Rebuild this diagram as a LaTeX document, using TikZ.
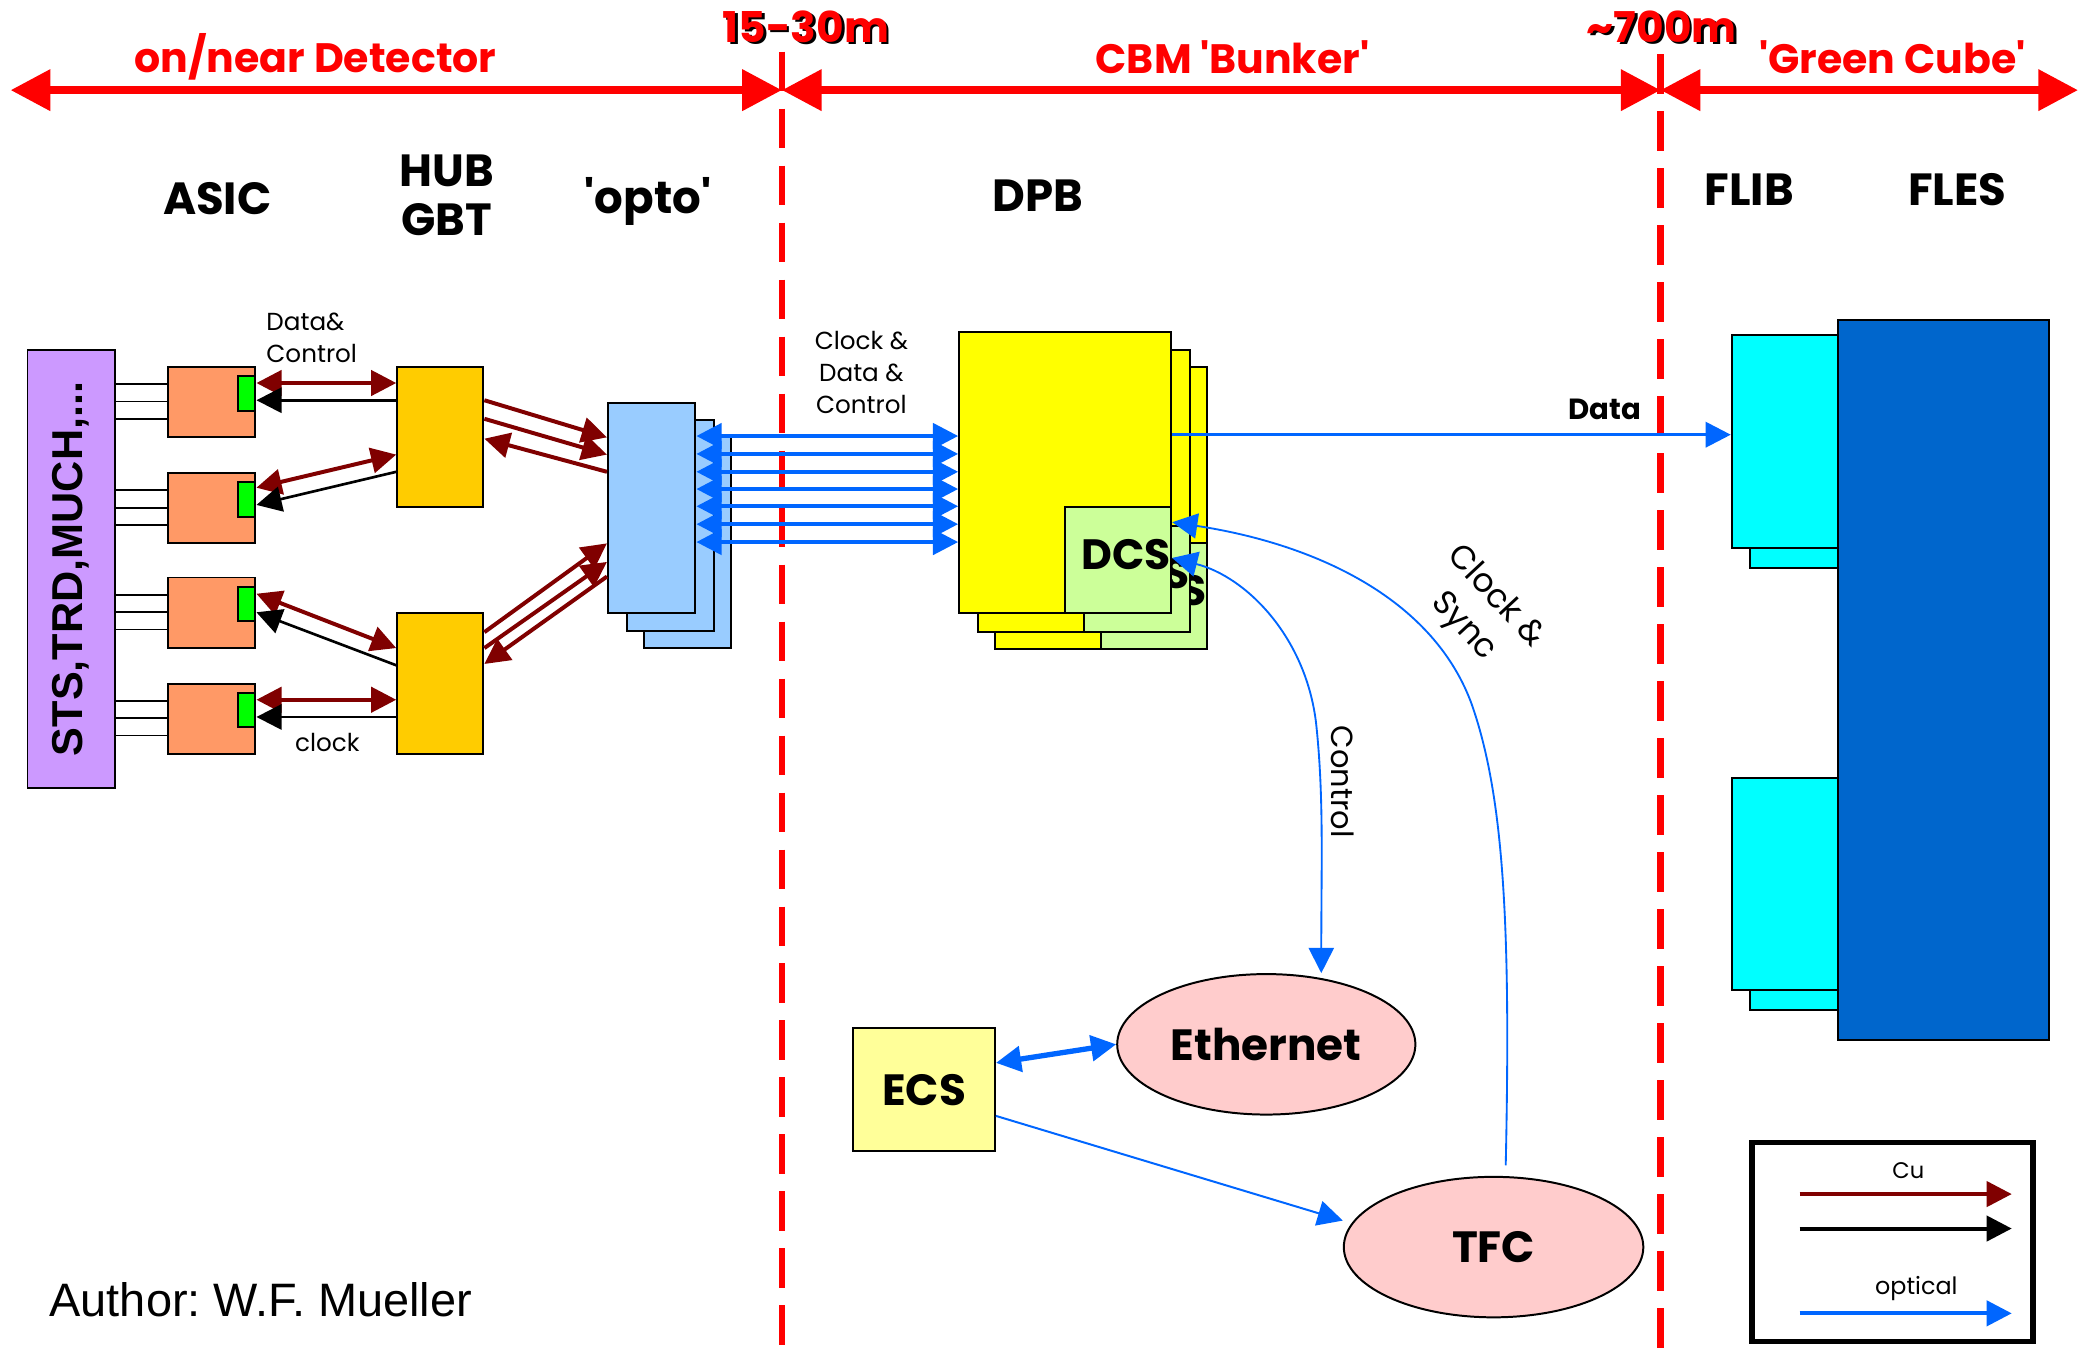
\documentclass[tikz,border=0pt]{standalone}
\usepackage{fontspec}
\setmainfont{Poppins}
\newfontfamily\arialfont{Liberation Sans}
\usetikzlibrary{arrows.meta,shapes.geometric}
\definecolor{dred}{HTML}{800000}
\definecolor{oblue}{HTML}{0066FF}
\definecolor{asicc}{HTML}{FF9966}
\definecolor{hubc}{HTML}{FFCC00}
\definecolor{optoc}{HTML}{99CCFF}
\definecolor{dpbc}{HTML}{FFFF00}
\definecolor{dcsc}{HTML}{CCFF99}
\definecolor{flibc}{HTML}{00FFFF}
\definecolor{flesc}{HTML}{0066CC}
\definecolor{ellc}{HTML}{FFCCCC}
\definecolor{ecsc}{HTML}{FFFF99}
\definecolor{purc}{HTML}{CC99FF}
\definecolor{grnc}{HTML}{00FF00}
\tikzset{
  tipS/.tip={Triangle[length=9.5pt,width=9.5pt]},
  tipB/.tip={Triangle[length=15pt,width=15pt]},
}
\frenchspacing
\begin{document}
\begin{tikzpicture}[x=0.5pt,y=-0.5pt,
  box/.style={draw=black,line width=0.75pt,inner sep=0pt,anchor=north west},
  hdr/.style={font=\bfseries\fontsize{17}{18.5}\selectfont,align=center},
  redlbl/.style={text=red,font=\bfseries\fontsize{15.5}{17}\selectfont},
  distlbl/.style={font=\bfseries\fontsize{16}{18}\selectfont},
  smalllbl/.style={font=\fontsize{9.3}{12}\selectfont,align=center},
  bigtxt/.style={font=\bfseries\fontsize{16.5}{18}\selectfont},
  dcstxt/.style={font=\bfseries\fontsize{16}{18}\selectfont},
  topbar/.style={draw=red,line width=3pt,arrows={tipB-tipB}},
  vdash/.style={draw=red,line width=2.5pt,dash pattern=on 15pt off 6.5pt},
  cu/.style={draw=dred,line width=1.5pt},
  blk/.style={draw=black,line width=1pt},
  opt/.style={draw=oblue,line width=1.5pt},
  thinopt/.style={draw=oblue,line width=0.7pt},
  wire/.style={draw=black,line width=0.7pt},
]
\path[fill=white] (0,0) rectangle (1568,1025);
\useasboundingbox (0,0) rectangle (1568,1025);

% ---------- vertical dashed separators ----------
\coordinate (d1t) at (590,39);
\coordinate (d1b) at (590,1025);
\coordinate (d2t) at (1253,41);
\coordinate (d2b) at (1253,1025);
\draw[vdash] (d1t) -- (d1b);
\draw[vdash] (d2t) -- (d2b);

% ---------- top bar ----------
\coordinate (bL) at (8,68);
\coordinate (b1) at (590,68);
\coordinate (b2) at (1253,68);
\coordinate (bR) at (1568,68);
\draw[topbar] (bL) -- (b1);
\draw[topbar] (b1) -- (b2);
\draw[topbar] (b2) -- (bR);

\node[redlbl] (lDet) at (238,43) {on/near Detector};
\node[distlbl,text=black] (l15s) at (610,22) {15-30m};
\node[distlbl,text=red] (l15) at (608,20) {15-30m};
\node[redlbl] (lBunk) at (930,43) {CBM \textquotesingle Bunker\textquotesingle};
\node[distlbl,text=black] (l700s) at (1256,22) {\textasciitilde 700m};
\node[distlbl,text=red] (l700) at (1254,20) {\textasciitilde 700m};
\node[redlbl] (lGreen) at (1428,43) {\textquotesingle Green Cube\textquotesingle};

% ---------- column headers ----------
\node[hdr] (hASIC) at (164,150) {ASIC};
\node[hdr] (hHUB) at (337,147) {HUB\\GBT};
\node[hdr] (hOpto) at (489,152) {\textquotesingle opto\textquotesingle};
\node[hdr] (hDPB) at (783,148) {DPB};
\node[hdr] (hFLIB) at (1320,143) {FLIB};
\node[hdr] (hFLES) at (1477,143) {FLES};

% ---------- detector box ----------
\node[box,fill=purc,minimum width=33pt,minimum height=165.5pt] (pur) at (20,263) {};
\node[rotate=90,font=\arialfont\bfseries\fontsize{16.3}{18}\selectfont] (purtxt) at (pur.center) {STS,TRD,MUCH,...};

% ---------- ASICs ----------
\foreach \i/\y in {1/276,2/356,3/435,4/515}{
  \node[box,fill=asicc,minimum width=33pt,minimum height=26.5pt] (asic\i) at (126,\y) {};
  \node[box,fill=grnc,minimum width=6.5pt,minimum height=13pt] (g\i) at (179,\y+7) {};
  \foreach \d in {14,27,40}{
    \draw[wire] (pur.east |- 0,\y+\d) -- (asic\i.west |- 0,\y+\d);
  }
}

% ---------- HUBs ----------
\node[box,fill=hubc,minimum width=32.5pt,minimum height=53pt] (hub1) at (299,276) {};
\node[box,fill=hubc,minimum width=32.5pt,minimum height=53pt] (hub2) at (299,462) {};

% ---------- opto ----------
\node[box,fill=optoc,minimum width=33pt,minimum height=79.5pt] (opto3) at (485,329) {};
\node[box,fill=optoc,minimum width=33pt,minimum height=79.5pt] (opto2) at (472,316) {};
\node[box,fill=optoc,minimum width=33pt,minimum height=79.5pt] (opto1) at (458,303) {};

% ---------- DPB stack ----------
\node[box,fill=dpbc,minimum width=80pt,minimum height=106.5pt] (dpb3) at (750,276) {};
\node[box,anchor=south east,fill=dcsc,minimum width=40pt,minimum height=40pt] (dcs3) at (dpb3.south east) {};
\node[dcstxt] (dcs3t) at ([xshift=3pt,yshift=2pt]dcs3.center) {DCS};
\node[box,fill=dpbc,minimum width=80pt,minimum height=106.5pt] (dpb2) at (737,263) {};
\node[box,anchor=south east,fill=dcsc,minimum width=40pt,minimum height=40pt] (dcs2) at (dpb2.south east) {};
\node[dcstxt] (dcs2t) at ([xshift=3pt,yshift=2pt]dcs2.center) {DCS};
\node[box,fill=dpbc,minimum width=80pt,minimum height=106pt] (dpb1) at (723,250) {};
\node[box,anchor=south east,fill=dcsc,minimum width=40pt,minimum height=40pt] (dcs1) at (dpb1.south east) {};
\node[dcstxt] (dcs1t) at ([xshift=3pt,yshift=2pt]dcs1.center) {DCS};

% ---------- FLIB / FLES ----------
\node[box,fill=flibc,minimum width=40pt,minimum height=80.5pt] (flib1b) at (1320,267) {};
\node[box,fill=flibc,minimum width=40pt,minimum height=80.5pt] (flib1) at (1306,252) {};
\node[box,fill=flibc,minimum width=40pt,minimum height=80pt] (flib2b) at (1320,601) {};
\node[box,fill=flibc,minimum width=40pt,minimum height=80pt] (flib2) at (1306,586) {};
\node[box,fill=flesc,minimum width=79.5pt,minimum height=271.5pt] (fles) at (1386,241) {};

% ---------- ECS / Ethernet / TFC ----------
\node[box,fill=ecsc,minimum width=53.5pt,minimum height=46.5pt,bigtxt] (ecs) at (643,775) {ECS};
\node[ellipse,draw=black,line width=0.75pt,fill=ellc,minimum width=112.5pt,minimum height=53pt,inner sep=0pt,bigtxt] (eth) at (955.5,788) {Ethernet};
\node[ellipse,draw=black,line width=0.75pt,fill=ellc,minimum width=113pt,minimum height=53pt,inner sep=0pt,bigtxt] (tfc) at (1127,941) {TFC};

% ---------- ASIC <-> HUB ----------
\draw[cu,tipS-tipS] (asic1.east |- 0,289) -- (hub1.west |- 0,289);
\draw[blk,-tipS] (hub1.west |- 0,302) -- (asic1.east |- 0,302);
\draw[cu,tipS-tipS] (asic2.east |- 0,368) -- (hub1.west |- 0,343);
\draw[blk,-tipS] (hub1.west |- 0,356) -- (asic2.east |- 0,381);
\draw[cu,tipS-tipS] (asic3.east |- 0,448) -- (hub2.west |- 0,489);
\draw[blk,-tipS] (hub2.west |- 0,502) -- (asic3.east |- 0,462);
\draw[cu,tipS-tipS] (asic4.east |- 0,528) -- (hub2.west |- 0,528);
\draw[blk,-tipS] (hub2.west |- 0,541) -- (asic4.east |- 0,541);

\node[smalllbl,align=left,anchor=west] (lDC) at (194,255) {Data\&\\Control};
\node[smalllbl] (lClk) at (247,560) {clock};

% ---------- HUB <-> opto ----------
\draw[cu,-tipS] (hub1.east |- 0,302) -- (opto1.west |- 0,330);
\draw[cu,-tipS] (hub1.east |- 0,316) -- (opto1.west |- 0,343);
\draw[cu,-tipS] (opto1.west |- 0,356) -- (hub1.east |- 0,331);
\draw[cu,-tipS] (hub2.east |- 0,477) -- (opto1.west |- 0,410);
\draw[cu,-tipS] (hub2.east |- 0,489) -- (opto1.west |- 0,424);
\draw[cu,-tipS] (opto1.west |- 0,435) -- (hub2.east |- 0,501);

% ---------- opto <-> DPB ----------
\foreach \y in {329,342.5,356,369,382,395.5,409}{
  \draw[opt,tipS-tipS] (opto1.east |- 0,\y) -- (dpb1.west |- 0,\y);
}
\node[smalllbl] (lCDC) at (650,281) {Clock \&\\Data \&\\Control};

% ---------- Data to FLIB ----------
\draw[draw=oblue,line width=1.2pt,-tipS] (dpb1.east |- 0,328) -- (flib1.west |- 0,328);
\node[font=\bfseries\fontsize{11}{12}\selectfont] (lData) at (1211,309) {Data};

% ---------- Control and Clock & Sync ----------
\draw[thinopt,tipS-tipS] (dcs1.east |- 0,421) .. controls (940,435) and (985,480) .. (993,545)
  .. controls (999,600) and (997,650) .. (eth.north -| 997,0);
\node[rotate=-90,font=\fontsize{11.5}{13}\selectfont] (lCtrl) at (1013,590) {Control};
\draw[thinopt,-tipS,shorten <=4pt] (tfc.north -| 1136,0) .. controls (1140,700) and (1135,600) .. (1110,530)
  .. controls (1080,450) and (990,410) .. (dcs1.east |- 0,394);
\node[rotate=-47,align=center,font=\fontsize{12.5}{16.5}\selectfont] (lCS) at (1116,462) {Clock \&\\Sync};

% ---------- ECS links ----------
\draw[draw=oblue,line width=2pt,tipS-tipS] (ecs.east |- 0,802) -- (eth.west);
\draw[draw=oblue,line width=0.75pt,-tipS] (ecs.east |- 0,842) -- (tfc.west |- 0,921);

% ---------- legend ----------
\node[draw=black,line width=2pt,inner sep=0pt,anchor=north west,minimum width=106pt,minimum height=75pt] (leg) at (1320,860) {};
\coordinate (lg1a) at (1358,901); \coordinate (lg1b) at (1518,901);
\coordinate (lg2a) at (1358,927); \coordinate (lg2b) at (1518,927);
\coordinate (lg3a) at (1358,991); \coordinate (lg3b) at (1518,991);
\draw[cu,-tipS] (lg1a) -- (lg1b);
\draw[blk,line width=1.5pt,-tipS] (lg2a) -- (lg2b);
\draw[opt,-tipS] (lg3a) -- (lg3b);
\node[font=\fontsize{8.5}{10}\selectfont] (lCu) at (1440,883) {Cu};
\node[font=\fontsize{9}{10}\selectfont] (lOpt) at (1446,972) {optical};

% ---------- author ----------
\node[anchor=west,inner sep=0pt,font=\arialfont\fontsize{17.7}{20}\selectfont] (auth) at (37,981) {Author: W.F. Mueller};
\end{tikzpicture}
\end{document}
